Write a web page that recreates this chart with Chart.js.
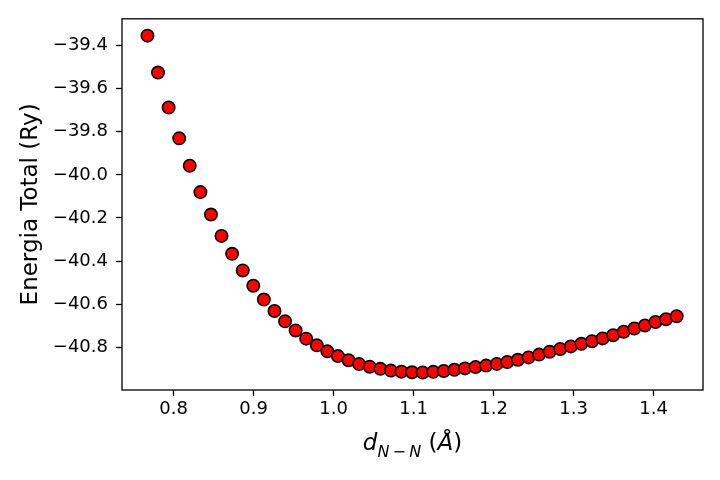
<!DOCTYPE html>
<html>
<head>
<meta charset="utf-8">
<title>Energia Total vs d(N-N)</title>
<script src="https://cdn.jsdelivr.net/npm/chart.js@4/dist/chart.umd.min.js"></script>
<style>
  html, body { margin: 0; padding: 0; background: #fff; }
  #wrap { width: 720px; height: 480px; }
</style>
</head>
<body>
<div id="wrap"><canvas id="energy-chart" width="720" height="480"></canvas></div>
<script>
// distances (Angstrom)
const distances = [
    0.7673, 0.7805, 0.7938, 0.8070, 0.8202, 0.8335, 0.8467, 0.8599, 0.8731, 0.8864,
    0.8996, 0.9128, 0.9261, 0.9393, 0.9525, 0.9657, 0.9790, 0.9922, 1.0054, 1.0187,
    1.0319, 1.0451, 1.0584, 1.0716, 1.0848, 1.0980, 1.1113, 1.1245, 1.1377, 1.1510,
    1.1642, 1.1774, 1.1906, 1.2039, 1.2171, 1.2303, 1.2436, 1.2568, 1.2700, 1.2833,
    1.2965, 1.3097, 1.3229, 1.3362, 1.3494, 1.3626, 1.3759, 1.3891, 1.4023, 1.4155,
    1.4288
];

// total energy (Ry)
const energies = [
    -39.355, -39.526, -39.688, -39.831, -39.958, -40.080, -40.184, -40.283, -40.366, -40.443,
    -40.514, -40.578, -40.631, -40.679, -40.721, -40.759, -40.790, -40.818, -40.840, -40.859,
    -40.877, -40.889, -40.899, -40.907, -40.912, -40.915, -40.916, -40.913, -40.909, -40.903,
    -40.897, -40.891, -40.884, -40.876, -40.867, -40.857, -40.846, -40.833, -40.820, -40.807,
    -40.795, -40.783, -40.771, -40.758, -40.743, -40.727, -40.712, -40.698, -40.682, -40.669,
    -40.655
];

const xTicks = [0.8, 0.9, 1.0, 1.1, 1.2, 1.3, 1.4];
const yTicks = [-39.4, -39.6, -39.8, -40.0, -40.2, -40.4, -40.6, -40.8];

const yTitle = 'Energia Total (Ry)';

const FONT = "'DejaVu Sans', 'Liberation Sans', sans-serif";

// frame + axis titles (matplotlib style)
const framePlugin = {
    id: 'frame',
    afterDraw(chart) {
        const { ctx, chartArea: a } = chart;
        ctx.save();
        ctx.strokeStyle = '#000';
        ctx.lineWidth = 1.3;
        ctx.strokeRect(a.left, a.top, a.right - a.left, a.bottom - a.top);

        // y title
        ctx.fillStyle = '#000';
        ctx.font = '23px ' + FONT;
        ctx.textAlign = 'center';
        ctx.textBaseline = 'alphabetic';
        ctx.translate(37, (a.top + a.bottom) / 2);
        ctx.rotate(-Math.PI / 2);
        ctx.fillText(yTitle, 0, 0);
        ctx.restore();

        // x title: d_{N-N} (Å)
        ctx.save();
        ctx.fillStyle = '#000';
        ctx.textAlign = 'left';
        ctx.textBaseline = 'alphabetic';
        const parts = [
            { t: 'd', f: 'italic 23px ' + FONT, dy: 0 },
            { t: 'N\u2009\u2212\u2009N', f: 'italic 16px ' + FONT, dy: 7 },
            { t: ' (', f: '23px ' + FONT, dy: 0 },
            { t: '\u00C5', f: 'italic 23px ' + FONT, dy: 0 },
            { t: ')', f: '23px ' + FONT, dy: 0 }
        ];
        let total = 0;
        parts.forEach(p => {
            ctx.font = p.f;
            p.w = ctx.measureText(p.t).width;
            total += p.w;
        });
        let x = (a.left + a.right) / 2 - total / 2;
        const base = 450;
        parts.forEach(p => {
            ctx.font = p.f;
            ctx.fillText(p.t, x, base + p.dy);
            x += p.w;
        });
        ctx.restore();
    }
};

const fmt = v => v.toFixed(1).replace('-', '\u2212');

const ctx = document.getElementById('energy-chart').getContext('2d');
new Chart(ctx, {
    type: 'scatter',
    data: {
        datasets: [{
            data: distances.map((d, i) => ({ x: d, y: energies[i] })),
            backgroundColor: '#ff0000',
            borderColor: '#000000',
            borderWidth: 1.6,
            pointRadius: 6.2,
            pointHoverRadius: 6.2
        }]
    },
    options: {
        responsive: false,
        animation: false,
        devicePixelRatio: 1,
        layout: { padding: { top: 18, right: 17, left: 0, bottom: 0 } },
        plugins: {
            legend: { display: false },
            tooltip: { enabled: false }
        },
        scales: {
            x: {
                type: 'linear',
                min: 0.7355,
                max: 1.4617,
                afterFit: scale => { scale.height = 90; },
                afterBuildTicks: scale => { scale.ticks = xTicks.map(v => ({ value: v })); },
                grid: {
                    display: true,
                    drawOnChartArea: false,
                    drawTicks: true,
                    tickLength: 6,
                    tickWidth: 1.3,
                    color: '#000'
                },
                border: { display: false },
                ticks: {
                    color: '#000',
                    padding: 3,
                    maxRotation: 0,
                    autoSkip: false,
                    font: { family: FONT, size: 18 },
                    callback: v => fmt(v)
                }
            },
            y: {
                type: 'linear',
                min: -40.997,
                max: -39.277,
                afterFit: scale => { scale.width = 122; },
                afterBuildTicks: scale => { scale.ticks = yTicks.map(v => ({ value: v })); },
                grid: {
                    display: true,
                    drawOnChartArea: false,
                    drawTicks: true,
                    tickLength: 6,
                    tickWidth: 1.3,
                    color: '#000'
                },
                border: { display: false },
                ticks: {
                    color: '#000',
                    padding: 8,
                    autoSkip: false,
                    font: { family: FONT, size: 18 },
                    callback: v => fmt(v)
                }
            }
        }
    },
    plugins: [framePlugin]
});
</script>
</body>
</html>
